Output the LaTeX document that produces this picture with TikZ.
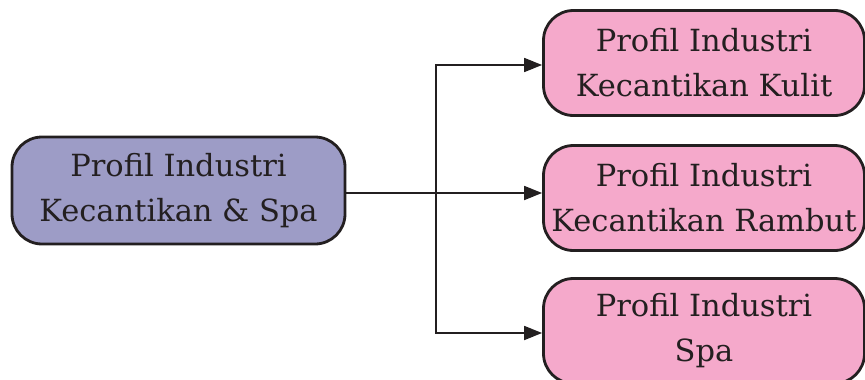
\documentclass[tikz,border=0pt]{standalone}
\usepackage{fontspec}
\setmainfont{DejaVu Serif}
\usetikzlibrary{arrows.meta}
\definecolor{ink}{HTML}{231F20}
\definecolor{lav}{HTML}{9D9CC6}
\definecolor{pinkbox}{HTML}{F5A9CB}
\tikzset{
  box/.style={draw=ink, line width=2.8pt, rounded corners=30pt, align=center,
    text=ink, font=\fontsize{30.5}{45}\selectfont, inner sep=0pt},
  conn/.style={draw=ink, line width=1.8pt, -{Triangle[length=18pt,width=14pt]}},
  link/.style={draw=ink, line width=1.8pt}
}
\begin{document}
\begin{tikzpicture}[x=1pt,y=-1pt]
\useasboundingbox (0,0) rectangle (865,380);
\node[box, fill=lav, minimum width=333pt, minimum height=107pt] (L) at (178.5,190.5)
  {Profil Industri\\Kecantikan \& Spa};
\node[box, fill=pinkbox, minimum width=321pt, minimum height=105pt] (A) at (704,63)
  {Profil Industri\\Kecantikan Kulit};
\node[box, fill=pinkbox, minimum width=321pt, minimum height=105pt] (B) at (704,198)
  {Profil Industri\\Kecantikan Rambut};
\node[box, fill=pinkbox, minimum width=321pt, minimum height=105pt] (C) at (704,331)
  {Profil Industri\\Spa};
\coordinate (j) at (436,193);
\coordinate (ya) at (0,65);
\coordinate (yc) at (0,333);
\draw[link] (L.east |- j) -- (j);
\draw[conn] (j) |- (A.west |- ya);
\draw[conn] (j) -- (B.west |- j);
\draw[conn] (j) |- (C.west |- yc);
\end{tikzpicture}
\end{document}
